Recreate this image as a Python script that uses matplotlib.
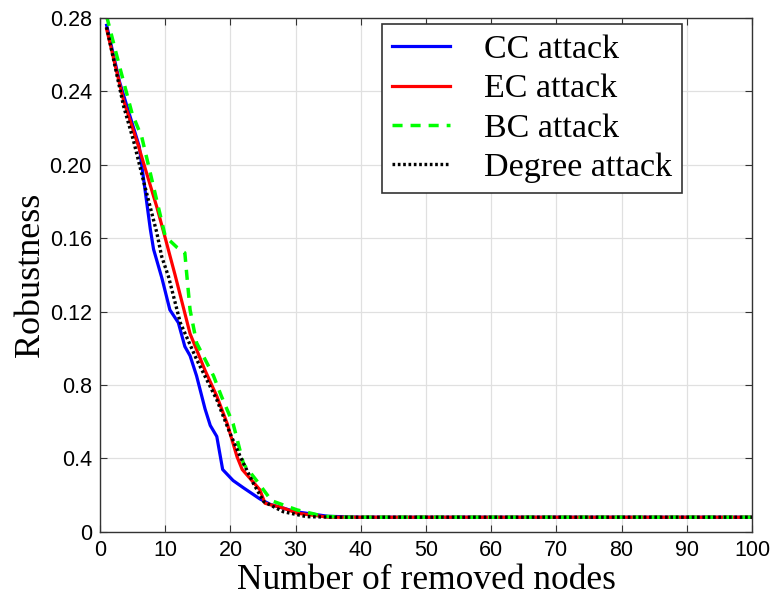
import matplotlib
matplotlib.use("Agg")
import matplotlib.pyplot as plt
from matplotlib.ticker import FixedLocator, FixedFormatter

# robustness vs. number of removed nodes, one curve per attack strategy
cc_x = [1, 3, 6, 7.7, 8.2, 9.5, 10.7, 12, 13, 13.8, 14.8, 16.1, 16.9, 17.9, 18.8, 20.4, 22, 24.5, 26.1, 30, 35, 40, 100]
cc_y = [0.276, 0.245, 0.21, 0.165, 0.154, 0.138, 0.121, 0.114, 0.101, 0.096, 0.085, 0.067, 0.058, 0.052,
        0.034, 0.028, 0.024, 0.018, 0.015, 0.011, 0.0085, 0.008, 0.008]

ec_x = [1, 3.6, 5.9, 8.7, 10, 11.5, 13.8, 16.1, 17.9, 19.5, 21, 21.8, 24.5, 25.3, 28.1, 30.2, 35, 100]
ec_y = [0.274, 0.235, 0.21, 0.177, 0.16, 0.14, 0.108, 0.088, 0.074, 0.059, 0.041, 0.034, 0.023, 0.0156,
        0.013, 0.0102, 0.008, 0.008]

bc_x = [1, 3.1, 4.9, 6.4, 8.2, 10, 11.8, 13, 13.3, 13.8, 14.8, 17.4, 18.6, 20.4, 22, 24, 26.3, 30.2, 34.3, 38, 100]
bc_y = [0.281, 0.252, 0.228, 0.215, 0.188, 0.161, 0.155, 0.152, 0.14, 0.121, 0.103, 0.085, 0.074, 0.059,
        0.037, 0.028, 0.017, 0.012, 0.0085, 0.008, 0.008]

dg_x = [1, 3.6, 5.1, 6.6, 8.7, 9.45, 10.5, 12.3, 14.8, 17.9, 19.9, 21.5, 23.5, 25.1, 28.1, 31.7, 36, 100]
dg_y = [0.275, 0.232, 0.2135, 0.192, 0.163, 0.15, 0.139, 0.114, 0.094, 0.072, 0.054, 0.041, 0.0265, 0.0165,
        0.011, 0.0083, 0.008, 0.008]

labels = ["CC attack", "EC attack", "BC attack", "Degree attack"]

xticks = [0, 10, 20, 30, 40, 50, 60, 70, 80, 90, 100]
yticks = [0, 0.04, 0.08, 0.12, 0.16, 0.20, 0.24, 0.28]
ytick_labels = ["0", "0.4", "0.8", "0.12", "0.16", "0.20", "0.24", "0.28"]

fig = plt.figure(figsize=(7.7, 5.99), dpi=100)
ax = fig.add_axes([0.13, 0.112, 0.8466, 0.858])

ax.plot(cc_x, cc_y, color="#0000ff", lw=2.3, label=labels[0])
ax.plot(ec_x, ec_y, color="#ff0000", lw=2.3, label=labels[1])
ax.plot(bc_x, bc_y, color="#00ff00", lw=2.5, dashes=(2.9, 2.3), label=labels[2])
ax.plot(dg_x, dg_y, color="black", lw=2.4, linestyle=(0, (0.8, 0.8)), label=labels[3])

ax.set_xlim(0, 100)
ax.set_ylim(0, 0.28)
ax.xaxis.set_major_locator(FixedLocator(xticks))
ax.yaxis.set_major_locator(FixedLocator(yticks))
ax.yaxis.set_major_formatter(FixedFormatter(ytick_labels))
ax.grid(True, color="#e0e0e0", lw=0.9)
ax.set_axisbelow(True)
ax.tick_params(direction="in", top=True, right=True, length=5, width=0.8, color="#333333",
               labelsize=15.5, pad=6)
for lab in ax.get_xticklabels() + ax.get_yticklabels():
    lab.set_family("Liberation Sans")
for sp in ax.spines.values():
    sp.set_color("#333333")
    sp.set_linewidth(1.0)

ax.set_xlabel("Number of removed nodes", family="Liberation Serif", fontsize=25.5, labelpad=2)
ax.set_ylabel("Robustness", family="Liberation Serif", fontsize=26, labelpad=2)

leg = ax.legend(loc="upper right", bbox_to_anchor=(0.893, 0.988), borderaxespad=0,
                prop={"family": "Liberation Serif", "size": 24.5},
                handlelength=1.7, handletextpad=1.0, labelspacing=0.25, borderpad=0.3,
                fancybox=False, framealpha=1)
leg.get_frame().set_edgecolor("#333333")
leg.get_frame().set_linewidth(1.2)

fig.savefig("out.png", dpi=100)
